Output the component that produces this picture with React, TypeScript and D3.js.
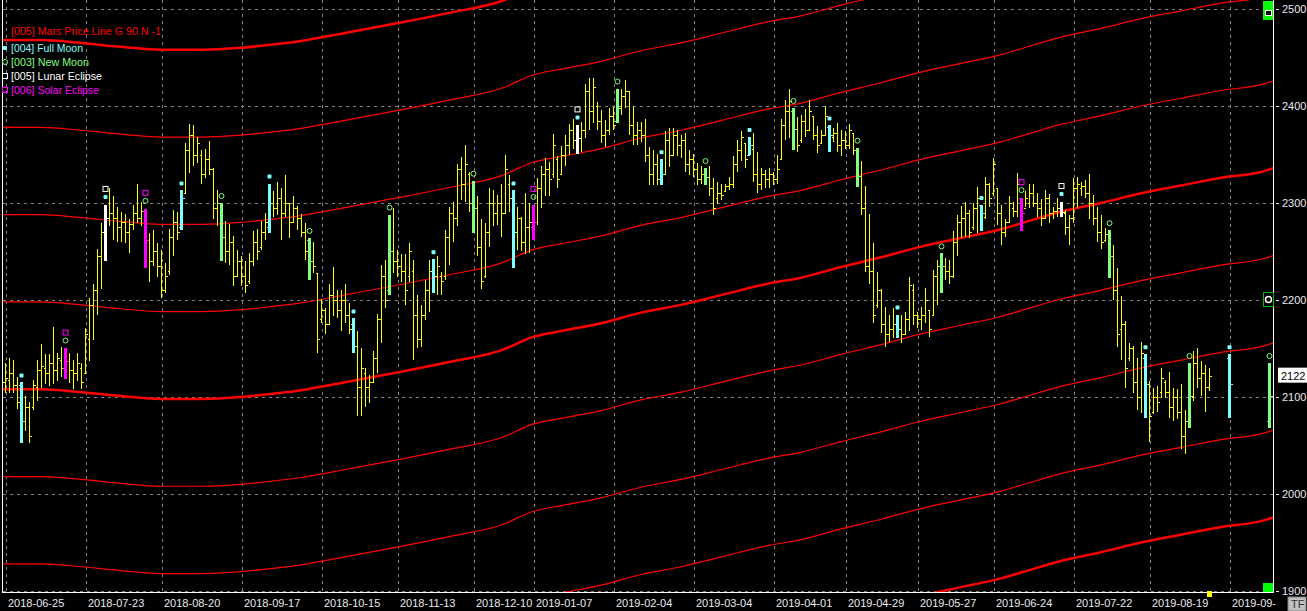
import React from 'react';
import * as d3 from 'd3';

const W = 1307;
const H = 611;

// right price axis
const priceTicks = [2500, 2400, 2300, 2200, 2100, 2000, 1900];
const lastClose = 2122;

// date axis: bar index of each labelled day
const dateTickIdx = [1, 21, 40, 60, 80, 99, 118, 133, 153, 173, 193, 211, 229, 248, 268, 287, 307];
const dateTickLabels = [
  '2018-06-25', '2018-07-23', '2018-08-20', '2018-09-17', '2018-10-15', '2018-11-13',
  '2018-12-10', '2019-01-07', '2019-02-04', '2019-03-04', '2019-04-01', '2019-04-29',
  '2019-05-27', '2019-06-24', '2019-07-22', '2019-08-19', '2019-09-',
];

// daily bars, [open, high, low, close]
const ohlc: [number, number, number, number][] = [
  // 0
  [2110, 2132, 2089, 2115], [2115, 2135, 2104, 2120], [2118, 2140, 2104, 2125], [2125, 2138, 2104, 2112], [2112, 2121, 2088, 2095],
  [2112, 2115, 2053, 2075], [2075, 2101, 2065, 2090], [2090, 2095, 2053, 2060], [2090, 2118, 2087, 2112], [2110, 2138, 2096, 2128],
  // 10
  [2128, 2155, 2109, 2132], [2130, 2144, 2113, 2125], [2125, 2144, 2111, 2135], [2135, 2172, 2113, 2128], [2128, 2145, 2116, 2140],
  [2138, 2152, 2121, 2130], [2130, 2150, 2119, 2137], [2137, 2145, 2114, 2128], [2128, 2138, 2108, 2125], [2125, 2145, 2116, 2135],
  // 20
  [2130, 2135, 2108, 2115], [2125, 2171, 2125, 2165], [2160, 2202, 2137, 2195], [2195, 2217, 2159, 2210], [2210, 2253, 2185, 2245],
  [2245, 2279, 2211, 2270], [2270, 2298, 2240, 2285], [2285, 2315, 2276, 2290], [2290, 2307, 2262, 2285], [2285, 2296, 2260, 2275],
  // 30
  [2275, 2291, 2260, 2280], [2280, 2289, 2259, 2270], [2270, 2283, 2248, 2278], [2278, 2298, 2272, 2290], [2290, 2320, 2279, 2285],
  [2285, 2301, 2276, 2292], [2292, 2294, 2233, 2262], [2262, 2269, 2219, 2240], [2240, 2272, 2235, 2250], [2250, 2259, 2224, 2235],
  // 40
  [2235, 2252, 2202, 2210], [2210, 2238, 2207, 2225], [2230, 2273, 2226, 2265], [2265, 2293, 2245, 2280], [2280, 2291, 2262, 2270],
  [2275, 2313, 2272, 2305], [2310, 2362, 2310, 2355], [2355, 2381, 2331, 2370], [2370, 2380, 2338, 2350], [2350, 2368, 2341, 2362],
  // 50
  [2350, 2355, 2320, 2330], [2330, 2356, 2326, 2345], [2345, 2364, 2329, 2335], [2335, 2336, 2283, 2295], [2295, 2313, 2276, 2300],
  [2300, 2300, 2240, 2265], [2265, 2281, 2238, 2250], [2250, 2278, 2236, 2260], [2260, 2266, 2214, 2225], [2225, 2252, 2224, 2240],
  // 60
  [2240, 2245, 2214, 2225], [2225, 2240, 2207, 2215], [2220, 2248, 2217, 2240], [2240, 2271, 2235, 2260], [2260, 2273, 2241, 2250],
  [2255, 2281, 2252, 2270], [2270, 2290, 2262, 2280], [2275, 2320, 2269, 2300], [2300, 2312, 2286, 2295], [2295, 2322, 2288, 2305],
  // 70
  [2305, 2315, 2262, 2290], [2290, 2329, 2286, 2300], [2300, 2300, 2264, 2280], [2280, 2307, 2279, 2295], [2295, 2297, 2272, 2285],
  [2285, 2289, 2265, 2270], [2270, 2279, 2241, 2250], [2262, 2264, 2221, 2240], [2240, 2260, 2228, 2235], [2228, 2228, 2145, 2160],
  // 80
  [2180, 2201, 2176, 2190], [2190, 2192, 2165, 2175], [2175, 2217, 2174, 2205], [2205, 2234, 2183, 2200], [2200, 2210, 2181, 2190],
  [2190, 2210, 2168, 2200], [2200, 2216, 2176, 2185], [2185, 2197, 2165, 2170], [2175, 2181, 2145, 2153], [2153, 2168, 2080, 2110],
  // 90
  [2110, 2150, 2080, 2130], [2125, 2130, 2090, 2110], [2110, 2123, 2094, 2115], [2115, 2147, 2114, 2140], [2140, 2186, 2125, 2180],
  [2180, 2236, 2156, 2225], [2225, 2241, 2192, 2200], [2210, 2288, 2205, 2250], [2250, 2295, 2228, 2240], [2240, 2252, 2224, 2235],
  // 100
  [2235, 2247, 2219, 2230], [2230, 2247, 2195, 2210], [2225, 2259, 2219, 2250], [2230, 2241, 2138, 2185], [2185, 2205, 2150, 2160],
  [2160, 2195, 2152, 2185], [2185, 2221, 2179, 2210], [2210, 2241, 2188, 2230], [2230, 2242, 2207, 2225], [2225, 2245, 2205, 2235],
  // 110
  [2225, 2229, 2205, 2220], [2225, 2272, 2221, 2265], [2265, 2296, 2236, 2290], [2290, 2301, 2260, 2285], [2285, 2340, 2276, 2335],
  [2335, 2347, 2303, 2320], [2320, 2360, 2301, 2340], [2330, 2332, 2291, 2300], [2300, 2323, 2269, 2295], [2295, 2307, 2245, 2255],
  // 120
  [2255, 2284, 2211, 2220], [2225, 2279, 2223, 2270], [2270, 2315, 2255, 2300], [2300, 2313, 2276, 2290], [2290, 2308, 2277, 2300],
  [2300, 2320, 2265, 2290], [2290, 2350, 2289, 2335], [2320, 2329, 2291, 2305], [2305, 2313, 2233, 2270], [2270, 2296, 2252, 2285],
  // 130
  [2285, 2286, 2250, 2260], [2260, 2310, 2247, 2275], [2275, 2300, 2248, 2280], [2275, 2298, 2262, 2280], [2280, 2326, 2277, 2315],
  [2315, 2338, 2295, 2330], [2330, 2346, 2307, 2335], [2335, 2342, 2307, 2325], [2330, 2371, 2326, 2360], [2345, 2348, 2315, 2325],
  // 140
  [2330, 2359, 2329, 2350], [2350, 2370, 2338, 2360], [2360, 2381, 2350, 2375], [2375, 2387, 2356, 2365], [2365, 2380, 2351, 2367],
  [2367, 2384, 2353, 2375], [2375, 2423, 2367, 2415], [2415, 2429, 2375, 2395], [2395, 2429, 2382, 2420], [2400, 2404, 2375, 2385],
  // 150
  [2385, 2396, 2362, 2370], [2370, 2386, 2358, 2375], [2375, 2398, 2370, 2390], [2390, 2399, 2375, 2380], [2385, 2418, 2382, 2398],
  [2400, 2418, 2391, 2410], [2410, 2427, 2398, 2415], [2415, 2415, 2370, 2380], [2380, 2400, 2360, 2370], [2370, 2384, 2360, 2375],
  // 160
  [2375, 2383, 2363, 2370], [2370, 2387, 2342, 2350], [2350, 2358, 2319, 2330], [2330, 2355, 2319, 2340], [2340, 2351, 2319, 2325],
  [2325, 2345, 2319, 2330], [2330, 2374, 2329, 2365], [2365, 2377, 2337, 2350], [2350, 2377, 2350, 2370], [2370, 2375, 2348, 2360],
  // 170
  [2360, 2370, 2346, 2365], [2365, 2372, 2332, 2340], [2340, 2355, 2329, 2345], [2345, 2351, 2327, 2335], [2335, 2341, 2319, 2325],
  [2325, 2338, 2320, 2330], [2330, 2336, 2319, 2327], [2327, 2338, 2307, 2315], [2315, 2326, 2288, 2295], [2305, 2322, 2299, 2310],
  // 180
  [2310, 2320, 2303, 2308], [2312, 2320, 2312, 2318], [2318, 2327, 2313, 2320], [2320, 2348, 2315, 2340], [2340, 2365, 2332, 2355],
  [2355, 2374, 2343, 2368], [2362, 2362, 2336, 2345], [2350, 2368, 2350, 2360], [2356, 2372, 2322, 2330], [2330, 2353, 2310, 2320],
  // 190
  [2320, 2336, 2313, 2330], [2330, 2334, 2315, 2325], [2325, 2336, 2315, 2330], [2330, 2332, 2319, 2325], [2325, 2349, 2320, 2335],
  [2345, 2387, 2344, 2380], [2380, 2406, 2365, 2395], [2395, 2418, 2367, 2405], [2395, 2398, 2355, 2376], [2376, 2389, 2353, 2360],
  // 200
  [2365, 2391, 2362, 2385], [2385, 2397, 2368, 2375], [2375, 2406, 2374, 2395], [2390, 2390, 2365, 2370], [2370, 2379, 2352, 2360],
  [2362, 2375, 2362, 2370], [2370, 2400, 2370, 2390], [2378, 2380, 2353, 2370], [2368, 2377, 2363, 2372], [2372, 2382, 2353, 2360],
  // 210
  [2360, 2375, 2348, 2365], [2365, 2374, 2356, 2360], [2360, 2381, 2356, 2375], [2372, 2372, 2350, 2355], [2355, 2357, 2317, 2328],
  [2328, 2343, 2288, 2295], [2295, 2318, 2229, 2235], [2235, 2289, 2217, 2230], [2230, 2259, 2176, 2185], [2195, 2229, 2192, 2210],
  // 220
  [2210, 2211, 2166, 2175], [2175, 2193, 2152, 2165], [2165, 2185, 2157, 2170], [2170, 2192, 2161, 2175], [2175, 2185, 2161, 2170],
  [2170, 2185, 2156, 2165], [2165, 2188, 2164, 2180], [2180, 2224, 2168, 2215], [2210, 2216, 2174, 2185], [2185, 2188, 2171, 2180],
  // 230
  [2180, 2193, 2169, 2185], [2185, 2212, 2176, 2200], [2190, 2190, 2162, 2170], [2185, 2231, 2183, 2225], [2225, 2241, 2195, 2235],
  [2235, 2248, 2207, 2235], [2235, 2243, 2221, 2230], [2230, 2241, 2217, 2225], [2225, 2271, 2223, 2260], [2260, 2288, 2245, 2280],
  // 240
  [2280, 2297, 2264, 2285], [2285, 2301, 2265, 2290], [2290, 2293, 2264, 2270], [2275, 2300, 2272, 2295], [2295, 2316, 2269, 2305],
  [2298, 2298, 2271, 2290], [2286, 2327, 2283, 2320], [2320, 2321, 2296, 2305], [2310, 2346, 2307, 2340], [2315, 2315, 2277, 2290],
  // 250
  [2290, 2298, 2257, 2270], [2270, 2284, 2265, 2280], [2280, 2307, 2279, 2300], [2295, 2301, 2286, 2292], [2292, 2331, 2286, 2320],
  [2305, 2305, 2271, 2290], [2295, 2312, 2296, 2305], [2300, 2320, 2295, 2310], [2310, 2320, 2296, 2300], [2300, 2310, 2286, 2295],
  // 260
  [2295, 2304, 2276, 2285], [2285, 2313, 2283, 2305], [2305, 2309, 2279, 2290], [2290, 2296, 2284, 2292], [2292, 2305, 2286, 2295],
  [2295, 2301, 2286, 2291], [2290, 2293, 2267, 2275], [2275, 2288, 2257, 2285], [2285, 2326, 2279, 2315], [2315, 2327, 2295, 2320],
  // 270
  [2315, 2322, 2307, 2318], [2318, 2324, 2305, 2310], [2310, 2330, 2284, 2300], [2300, 2308, 2277, 2285], [2285, 2296, 2260, 2270],
  [2270, 2288, 2253, 2260], [2262, 2274, 2260, 2268], [2268, 2272, 2223, 2245], [2245, 2257, 2200, 2210], [2210, 2233, 2152, 2165],
  // 280
  [2170, 2204, 2138, 2175], [2175, 2178, 2109, 2130], [2140, 2156, 2137, 2150], [2150, 2153, 2104, 2115], [2115, 2140, 2087, 2100],
  [2100, 2157, 2084, 2145], [2140, 2144, 2078, 2113], [2113, 2116, 2054, 2080], [2085, 2109, 2082, 2100], [2100, 2111, 2085, 2095],
  // 290
  [2105, 2130, 2099, 2120], [2115, 2118, 2099, 2105], [2105, 2126, 2078, 2090], [2090, 2109, 2075, 2100], [2100, 2108, 2077, 2085],
  [2085, 2113, 2046, 2060], [2060, 2087, 2041, 2075], [2075, 2135, 2068, 2101], [2100, 2147, 2096, 2135], [2135, 2150, 2109, 2120],
  // 300
  [2120, 2137, 2101, 2125], [2125, 2133, 2085, 2110], [2110, 2130, 2106, 2122],
];

// moon / eclipse days (bar index)
const fullMoon = [5, 45, 67, 88, 108, 128, 165, 187, 207, 224, 245, 286];
const newMoon = [55, 77, 97, 118, 154, 176, 198, 214, 235, 277, 297];
const lunarEclipse = [26, 144, 265];
const solarEclipse = [16, 36, 133, 255];

// projected moon bars after the last bar
const projIdx = [307, 317];
const projKind = ['full', 'new'];
const projOhlc: [number, number, number, number][] = [
  [2140, 2144, 2078, 2113],
  [2075, 2135, 2068, 2101],
];

// Mars price line (base harmonic), sampled at bar index
const marsIdx = [-1, 10, 20, 30, 40, 50, 60, 65, 75, 87, 100, 112, 125, 133, 140, 150, 160, 170, 180, 192, 200, 210, 220, 230, 240, 250, 255, 265, 275, 285, 295, 305, 315, 319];
const marsBase = [2108, 2108, 2105, 2101, 2098, 2098, 2100, 2102, 2107, 2116, 2126, 2136, 2148, 2162, 2168, 2176, 2187, 2195, 2205, 2217, 2223, 2234, 2244, 2255, 2264, 2273, 2279, 2291, 2300, 2310, 2318, 2326, 2332, 2337];
const marsStep = 90;
const marsHarmonics = [-5, -4, -3, -2, -1, 0, 1, 2, 3, 4, 5];

const C = {
  bar: '#ffff00',
  full: '#80ffff',
  newm: '#80ff80',
  lunar: '#ffffff',
  solar: '#ff00ff',
  mars: '#ff0000',
  grid: '#808080',
  axis: '#e8e8f0',
};

const plot = { left: 3, right: 1273, top: 0, bottom: 592 };

const x = d3.scaleLinear().domain([0, 1]).range([1, 5]);
const y = d3.scaleLinear().domain([1900, 2500]).range([591, 9]);

const kindOf = (i: number) => {
  if (lunarEclipse.includes(i)) return 'lunar';
  if (solarEclipse.includes(i)) return 'solar';
  if (fullMoon.includes(i)) return 'full';
  if (newMoon.includes(i)) return 'new';
  return 'bar';
};

const colorOf: Record<string, string> = {
  bar: C.bar, full: C.full, new: C.newm, lunar: C.lunar, solar: C.solar,
};

const FONT = 'Arial, "Liberation Sans", sans-serif';

const py = (v: number) => Math.round(y(v)) + 0.5;

function MoonMarker({ kind, cx, cy }: { kind: string; cx: number; cy: number }) {
  if (kind === 'full') return <rect x={cx - 2} y={cy - 2} width={4} height={4} rx={1} fill={C.full} />;
  if (kind === 'new') return <circle cx={cx} cy={cy} r={2.5} fill="none" stroke={C.newm} strokeWidth={1} />;
  if (kind === 'lunar') return <rect x={cx - 2.5} y={cy - 2.5} width={5} height={5} fill="none" stroke={C.lunar} strokeWidth={1} />;
  return <rect x={cx - 2.5} y={cy - 2.5} width={5} height={5} fill="none" stroke={C.solar} strokeWidth={1} />;
}

function Bar({ i, d, kind }: { i: number; d: [number, number, number, number]; kind: string }) {
  const [o, h, l, c] = d;
  const cx = Math.round(x(i)) + 0.5;
  const col = colorOf[kind];
  if (kind === 'bar') {
    return (
      <g stroke={col} strokeWidth={1} shapeRendering="crispEdges">
        <line x1={cx} x2={cx} y1={Math.round(y(h))} y2={Math.round(y(l))} />
        <line x1={cx - 2} x2={cx} y1={py(o)} y2={py(o)} />
        <line x1={cx} x2={cx + 2} y1={py(c)} y2={py(c)} />
      </g>
    );
  }
  const markers: [string, number][] = [];
  if (kind === 'full') markers.push(['full', 7]);
  if (kind === 'new') markers.push(['new', 7]);
  if (kind === 'lunar') markers.push(['full', 8], ['lunar', 16]);
  if (kind === 'solar') markers.push(['new', 8], ['solar', 16]);
  return (
    <g>
      <g shapeRendering="crispEdges">
        <rect x={cx - 1.5} y={Math.round(y(h))} width={3} height={Math.round(y(l)) - Math.round(y(h))} fill={col} />
        <line x1={cx - 3} x2={cx} y1={py(o)} y2={py(o)} stroke={col} />
        <line x1={cx} x2={cx + 3} y1={py(c)} y2={py(c)} stroke={col} />
      </g>
      {markers.map(([k, off]) => (
        <MoonMarker key={k} kind={k} cx={cx} cy={y(h) - off} />
      ))}
    </g>
  );
}

export default function App() {
  const marsPts = marsIdx.map((d, j) => [d, marsBase[j]] as [number, number]);
  const line = d3
    .line<[number, number]>()
    .x((d) => x(d[0]))
    .y((d) => y(d[1]))
    .curve(d3.curveMonotoneX);

  const legend = [
    { text: '[005] Mars Price Line G 90 N -1', color: C.mars, y: 31, marker: null, w: 150 },
    { text: '[004] Full Moon', color: C.full, y: 48, marker: 'full', w: 72 },
    { text: '[003] New Moon', color: C.newm, y: 62, marker: 'new', w: 78 },
    { text: '[005] Lunar Eclipse', color: C.lunar, y: 76, marker: 'lunar', w: 91 },
    { text: '[006] Solar Eclipse', color: C.solar, y: 90, marker: 'solar', w: 88 },
  ];

  return (
    <div style={{ position: 'fixed', left: 0, top: 0, width: W, height: H, background: '#000' }}>
      <svg width={W} height={H} viewBox={`0 0 ${W} ${H}`} style={{ display: 'block', background: '#000' }}>
        <defs>
          <clipPath id="plotClip">
            <rect x={plot.left} y={plot.top} width={plot.right - plot.left} height={plot.bottom - plot.top} />
          </clipPath>
        </defs>

        {/* grid */}
        <g stroke={C.grid} strokeWidth={1} strokeDasharray="3,4" shapeRendering="crispEdges">
          {priceTicks.map((p) => (
            <line key={p} x1={plot.left} x2={plot.right} y1={py(p)} y2={py(p)} />
          ))}
          {dateTickIdx.map((t) => (
            <line key={t} x1={x(t) + 1.5} x2={x(t) + 1.5} y1={plot.top} y2={plot.bottom} />
          ))}
        </g>

        {/* Mars price lines */}
        <g clipPath="url(#plotClip)" fill="none" stroke={C.mars}>
          {marsHarmonics.map((k) => (
            <path
              key={k}
              d={line(marsPts.map(([i, v]) => [i, v + k * marsStep] as [number, number])) || ''}
              strokeWidth={k % 4 === 0 ? 2.5 : 1.2}
            />
          ))}
        </g>

        {/* bars */}
        <g clipPath="url(#plotClip)">
          {ohlc.map((d, i) => (kindOf(i) === 'bar' ? <Bar key={i} i={i} d={d} kind="bar" /> : null))}
          {ohlc.map((d, i) => (kindOf(i) !== 'bar' ? <Bar key={'m' + i} i={i} d={d} kind={kindOf(i)} /> : null))}
          {projIdx.map((p, j) => (
            <Bar key={'p' + p} i={p} d={projOhlc[j]} kind={projKind[j]} />
          ))}
        </g>

        {/* frame */}
        <g stroke="#ffffff" strokeWidth={1} shapeRendering="crispEdges">
          <line x1={2.5} x2={2.5} y1={0} y2={plot.bottom} />
          <line x1={plot.right + 0.5} x2={plot.right + 0.5} y1={0} y2={plot.bottom} />
          <line x1={2} x2={plot.right + 1} y1={plot.bottom + 0.5} y2={plot.bottom + 0.5} />
        </g>

        {/* legend */}
        <g fontFamily={FONT} fontSize={11}>
          {legend.map((l) => (
            <g key={l.text}>
              {l.marker && <MoonMarker kind={l.marker} cx={5} cy={l.y} />}
              <text x={11} y={l.y + 4} fill={l.color} textLength={l.w} lengthAdjust="spacingAndGlyphs">
                {l.text}
              </text>
            </g>
          ))}
        </g>

        {/* right price axis */}
        <g fontFamily={FONT} fontSize={11} fill={C.axis}>
          {priceTicks.map((p) => (
            <g key={p}>
              <line x1={plot.right + 3} x2={plot.right + 6} y1={py(p)} y2={py(p)} stroke={C.axis} shapeRendering="crispEdges" />
              <text x={1282} y={y(p) + 4}>{p}</text>
            </g>
          ))}
        </g>

        {/* last price box */}
        <rect x={1278} y={y(lastClose) - 8} width={29} height={15} fill="#ffffff" />
        <text x={1281} y={y(lastClose) + 4} fontFamily={FONT} fontSize={11} fill="#000">
          {lastClose}
        </text>

        {/* bottom date axis */}
        <g fontFamily={FONT} fontSize={11} fill={C.axis}>
          {dateTickIdx.map((t, j) => (
            <text key={t} x={x(t) + 3} y={607}>
              {dateTickLabels[j]}
            </text>
          ))}
        </g>

        {/* status widgets on the right edge */}
        <rect x={1263} y={1} width={10} height={19} fill="#00ff00" />
        <rect x={1265.5} y={10.5} width={6} height={5} fill="#000" stroke="#fff" />
        <rect x={1263.5} y={y(2200) - 7.5} width={10} height={14} fill="#000" stroke="#00c000" />
        <circle cx={1268.5} cy={y(2200) - 0.5} r={3} fill="none" stroke="#fff" strokeWidth={1.5} />
        <rect x={1263} y={583} width={10} height={9} fill="#00ff00" />
        <rect x={x(302) - 2} y={591} width={5} height={6} fill="#ffff00" />
        <rect x={1288} y={597} width={18} height={14} fill="#c0c0c0" stroke="#808080" />
        <text x={1291} y={608} fontFamily={FONT} fontSize={11} fill="#303030">TF</text>
      </svg>
    </div>
  );
}
